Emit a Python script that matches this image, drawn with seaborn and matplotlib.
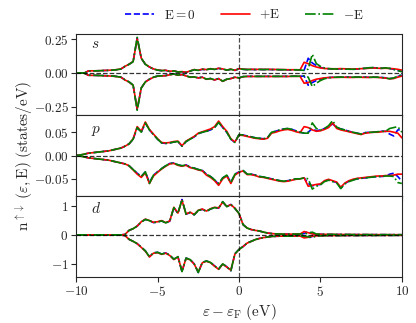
import numpy as np
import matplotlib
matplotlib.use("Agg")
import matplotlib.pyplot as plt
from matplotlib.ticker import FuncFormatter
import seaborn as sns

# energy grid (eV), 0.25 eV step
energy = np.arange(-10, 10.001, 0.25)

# s orbital, spin up / spin down, for E = 0, +E, -E
s_up_zero = [0, 0, 0, 0.015, 0.016, 0.017, 0.018, 0.019, 0.02, 0.022,
             0.025, 0.03, 0.05, 0.065, 0.085, 0.26, 0.11, 0.065, 0.045, 0.03,
             0.022, 0.018, 0.02, 0.012, 0.016, 0.008, 0.01, 0.004, 0.015, 0.025,
             0.02, 0.028, 0.025, 0.032, 0.027, 0.035, 0.03, 0.022, 0.028, 0.02,
             0.032, 0.028, 0.026, 0.027, 0.026, 0.027, 0.026, 0.027, 0.026, 0.026,
             0.025, 0.025, 0.024, 0.024, 0.024, 0.023, 0.022, 0.11, 0.075, 0.055,
             0.042, 0.035, 0.032, 0.03, 0.03, 0.032, 0.03, 0.03, 0.028, 0.03,
             0.033, 0.035, 0.038, 0.04, 0.037, 0.035, 0.038, 0.034, 0.028, 0.02,
             0.012]
s_up_plus = [0, 0, 0, 0.016, 0.017, 0.017, 0.018, 0.02, 0.021, 0.022,
             0.026, 0.031, 0.05, 0.066, 0.086, 0.255, 0.11, 0.066, 0.046, 0.031,
             0.023, 0.019, 0.021, 0.013, 0.017, 0.009, 0.011, 0.006, 0.016, 0.026,
             0.021, 0.029, 0.026, 0.033, 0.028, 0.036, 0.031, 0.023, 0.029, 0.021,
             0.033, 0.029, 0.027, 0.028, 0.027, 0.028, 0.027, 0.028, 0.027, 0.027,
             0.026, 0.026, 0.025, 0.025, 0.025, 0.024, 0.08, 0.07, 0.055, 0.045,
             0.038, 0.034, 0.033, 0.032, 0.032, 0.033, 0.032, 0.031, 0.03, 0.031,
             0.033, 0.034, 0.036, 0.038, 0.036, 0.035, 0.036, 0.034, 0.032, 0.028,
             0.022]
s_up_minus = [0, 0, 0, 0.015, 0.016, 0.017, 0.018, 0.019, 0.02, 0.022,
              0.025, 0.03, 0.05, 0.065, 0.084, 0.265, 0.11, 0.065, 0.045, 0.03,
              0.022, 0.018, 0.02, 0.012, 0.016, 0.008, 0.01, 0.004, 0.015, 0.025,
              0.02, 0.028, 0.025, 0.032, 0.027, 0.035, 0.03, 0.022, 0.028, 0.02,
              0.032, 0.028, 0.026, 0.027, 0.026, 0.027, 0.026, 0.027, 0.026, 0.026,
              0.025, 0.025, 0.024, 0.024, 0.024, 0.023, 0.02, 0.03, 0.14, 0.07,
              0.05, 0.038, 0.033, 0.031, 0.03, 0.031, 0.03, 0.029, 0.028, 0.03,
              0.034, 0.036, 0.04, 0.041, 0.038, 0.036, 0.039, 0.035, 0.027, 0.018,
              0.01]
s_dn_zero = [0, 0, 0, -0.016, -0.016, -0.017, -0.018, -0.019, -0.02, -0.022,
             -0.025, -0.03, -0.05, -0.065, -0.09, -0.27, -0.11, -0.065, -0.045, -0.03,
             -0.022, -0.02, -0.018, -0.012, -0.006, -0.015, -0.01, -0.02, -0.03, -0.028,
             -0.035, -0.03, -0.045, -0.04, -0.05, -0.04, -0.06, -0.045, -0.04, -0.03,
             -0.035, -0.026, -0.024, -0.024, -0.024, -0.024, -0.024, -0.024, -0.024, -0.024,
             -0.024, -0.024, -0.024, -0.023, -0.023, -0.023, -0.022, -0.09, -0.07, -0.055,
             -0.045, -0.037, -0.033, -0.031, -0.03, -0.03, -0.029, -0.03, -0.03, -0.029,
             -0.03, -0.03, -0.031, -0.03, -0.03, -0.032, -0.035, -0.04, -0.038, -0.025,
             -0.015]
s_dn_plus = [0, 0, 0, -0.016, -0.017, -0.017, -0.018, -0.02, -0.021, -0.023,
             -0.026, -0.031, -0.051, -0.066, -0.09, -0.265, -0.11, -0.066, -0.046, -0.031,
             -0.023, -0.021, -0.019, -0.013, -0.007, -0.016, -0.011, -0.021, -0.031, -0.029,
             -0.036, -0.031, -0.046, -0.041, -0.051, -0.041, -0.061, -0.046, -0.041, -0.031,
             -0.036, -0.027, -0.025, -0.025, -0.025, -0.025, -0.025, -0.025, -0.025, -0.025,
             -0.025, -0.025, -0.025, -0.024, -0.024, -0.024, -0.075, -0.07, -0.055, -0.045,
             -0.04, -0.035, -0.033, -0.032, -0.032, -0.031, -0.031, -0.032, -0.032, -0.031,
             -0.031, -0.032, -0.032, -0.031, -0.032, -0.034, -0.037, -0.042, -0.04, -0.03,
             -0.022]
s_dn_minus = [0, 0, 0, -0.016, -0.016, -0.017, -0.018, -0.019, -0.02, -0.022,
              -0.025, -0.03, -0.05, -0.065, -0.089, -0.275, -0.11, -0.065, -0.045, -0.03,
              -0.022, -0.02, -0.018, -0.012, -0.006, -0.015, -0.01, -0.02, -0.03, -0.028,
              -0.035, -0.03, -0.045, -0.04, -0.05, -0.04, -0.06, -0.045, -0.04, -0.03,
              -0.035, -0.026, -0.024, -0.024, -0.024, -0.024, -0.024, -0.024, -0.024, -0.024,
              -0.024, -0.024, -0.024, -0.023, -0.023, -0.023, -0.02, -0.03, -0.1, -0.075,
              -0.055, -0.042, -0.035, -0.031, -0.03, -0.03, -0.029, -0.03, -0.03, -0.029,
              -0.03, -0.03, -0.031, -0.03, -0.03, -0.033, -0.036, -0.042, -0.036, -0.022,
              -0.012]

# p orbital
p_up_zero = [0, 0.001, 0.003, 0.005, 0.006, 0.007, 0.008, 0.009, 0.01, 0.012,
             0.014, 0.016, 0.02, 0.025, 0.035, 0.06, 0.05, 0.07, 0.055, 0.045,
             0.035, 0.027, 0.026, 0.027, 0.029, 0.03, 0.02, 0.03, 0.035, 0.04,
             0.047, 0.05, 0.052, 0.055, 0.06, 0.072, 0.06, 0.05, 0.035, 0.028,
             0.045, 0.044, 0.042, 0.04, 0.038, 0.037, 0.036, 0.038, 0.05, 0.052,
             0.055, 0.057, 0.058, 0.056, 0.053, 0.05, 0.048, 0.05, 0.058, 0.053,
             0.055, 0.058, 0.062, 0.068, 0.06, 0.057, 0.055, 0.052, 0.05, 0.048,
             0.046, 0.049, 0.05, 0.05, 0.051, 0.052, 0.052, 0.046, 0.042, 0.055,
             0.055]
p_up_plus = [0, 0.001, 0.003, 0.005, 0.006, 0.007, 0.008, 0.009, 0.01, 0.012,
             0.014, 0.016, 0.02, 0.025, 0.036, 0.062, 0.052, 0.072, 0.056, 0.046,
             0.036, 0.028, 0.027, 0.028, 0.03, 0.031, 0.021, 0.031, 0.036, 0.041,
             0.048, 0.051, 0.054, 0.057, 0.062, 0.074, 0.062, 0.052, 0.036, 0.029,
             0.044, 0.043, 0.041, 0.039, 0.037, 0.036, 0.035, 0.037, 0.048, 0.05,
             0.053, 0.055, 0.056, 0.054, 0.051, 0.049, 0.062, 0.06, 0.055, 0.052,
             0.053, 0.056, 0.06, 0.07, 0.058, 0.055, 0.053, 0.051, 0.049, 0.047,
             0.045, 0.048, 0.049, 0.05, 0.05, 0.051, 0.052, 0.052, 0.05, 0.048,
             0.038]
p_up_minus = [0, 0.001, 0.003, 0.005, 0.006, 0.007, 0.008, 0.009, 0.01, 0.012,
              0.014, 0.016, 0.02, 0.025, 0.035, 0.06, 0.05, 0.07, 0.055, 0.045,
              0.035, 0.027, 0.026, 0.027, 0.029, 0.03, 0.02, 0.03, 0.035, 0.04,
              0.047, 0.05, 0.052, 0.055, 0.06, 0.071, 0.06, 0.05, 0.035, 0.028,
              0.045, 0.044, 0.042, 0.04, 0.038, 0.037, 0.036, 0.038, 0.05, 0.052,
              0.055, 0.057, 0.058, 0.056, 0.053, 0.05, 0.048, 0.048, 0.07, 0.058,
              0.055, 0.058, 0.064, 0.075, 0.061, 0.057, 0.055, 0.052, 0.05, 0.048,
              0.046, 0.049, 0.05, 0.05, 0.051, 0.052, 0.052, 0.058, 0.06, 0.062,
              0.05]
p_dn_zero = [0, -0.001, -0.003, -0.005, -0.006, -0.007, -0.008, -0.009, -0.01, -0.012,
             -0.014, -0.016, -0.018, -0.022, -0.03, -0.038, -0.045, -0.035, -0.058, -0.042,
             -0.035, -0.028, -0.022, -0.017, -0.016, -0.02, -0.022, -0.02, -0.025, -0.027,
             -0.03, -0.032, -0.04, -0.045, -0.052, -0.062, -0.048, -0.042, -0.058, -0.04,
             -0.035, -0.032, -0.04, -0.04, -0.042, -0.045, -0.046, -0.048, -0.05, -0.052,
             -0.054, -0.055, -0.054, -0.052, -0.05, -0.05, -0.048, -0.06, -0.065, -0.063,
             -0.062, -0.055, -0.052, -0.055, -0.058, -0.07, -0.06, -0.055, -0.052, -0.05,
             -0.049, -0.048, -0.047, -0.046, -0.045, -0.045, -0.044, -0.04, -0.038, -0.045,
             -0.055]
p_dn_plus = [0, -0.001, -0.003, -0.005, -0.006, -0.007, -0.008, -0.009, -0.01, -0.012,
             -0.014, -0.016, -0.018, -0.022, -0.031, -0.04, -0.047, -0.037, -0.06, -0.044,
             -0.036, -0.029, -0.023, -0.018, -0.017, -0.021, -0.023, -0.021, -0.026, -0.028,
             -0.031, -0.033, -0.042, -0.047, -0.054, -0.064, -0.05, -0.044, -0.06, -0.042,
             -0.036, -0.033, -0.041, -0.041, -0.043, -0.046, -0.047, -0.049, -0.051, -0.053,
             -0.055, -0.056, -0.055, -0.053, -0.051, -0.05, -0.048, -0.066, -0.064, -0.062,
             -0.061, -0.054, -0.051, -0.054, -0.057, -0.068, -0.059, -0.054, -0.051, -0.049,
             -0.048, -0.047, -0.046, -0.045, -0.044, -0.044, -0.043, -0.043, -0.042, -0.04,
             -0.04]
p_dn_minus = [0, -0.001, -0.003, -0.005, -0.006, -0.007, -0.008, -0.009, -0.01, -0.012,
              -0.014, -0.016, -0.018, -0.022, -0.03, -0.038, -0.045, -0.035, -0.06, -0.042,
              -0.035, -0.028, -0.022, -0.017, -0.016, -0.02, -0.022, -0.02, -0.025, -0.027,
              -0.03, -0.032, -0.04, -0.045, -0.052, -0.06, -0.048, -0.042, -0.058, -0.04,
              -0.035, -0.032, -0.04, -0.04, -0.042, -0.045, -0.046, -0.048, -0.05, -0.052,
              -0.054, -0.055, -0.054, -0.052, -0.05, -0.05, -0.048, -0.05, -0.072, -0.066,
              -0.063, -0.056, -0.053, -0.056, -0.059, -0.071, -0.061, -0.056, -0.053, -0.05,
              -0.049, -0.048, -0.047, -0.046, -0.045, -0.045, -0.044, -0.044, -0.045, -0.058,
              -0.06]

# d orbital
d_up_zero = [0, 0, 0, 0, 0, 0, 0, 0, 0, 0,
             0, 0.003, 0.02, 0.16, 0.22, 0.31, 0.45, 0.54, 0.5, 0.43,
             0.45, 0.49, 0.42, 0.48, 0.95, 0.75, 1.23, 0.72, 0.78, 0.7,
             0.85, 0.89, 0.82, 0.9, 0.95, 0.93, 1.15, 0.98, 1.06, 0.92,
             0.75, 0.36, 0.24, 0.19, 0.16, 0.14, 0.1, 0.07, 0.05, 0.04,
             0.035, 0.03, 0.03, 0.03, 0.03, 0.035, 0.05, 0.12, 0.05, 0.03,
             0.025, 0.022, 0.02, 0.02, 0.018, 0.018, 0.017, 0.016, 0.015, 0.015,
             0.014, 0.014, 0.013, 0.013, 0.012, 0.012, 0.012, 0.011, 0.011, 0.01,
             0.01]
d_up_plus = [0, 0, 0, 0, 0, 0, 0, 0, 0, 0,
             0, 0.003, 0.02, 0.16, 0.22, 0.31, 0.46, 0.55, 0.5, 0.44,
             0.46, 0.5, 0.43, 0.49, 0.96, 0.76, 1.2, 0.73, 0.79, 0.71,
             0.86, 0.9, 0.83, 0.91, 0.96, 0.94, 1.14, 0.99, 1.05, 0.93,
             0.74, 0.36, 0.24, 0.19, 0.16, 0.14, 0.1, 0.07, 0.05, 0.04,
             0.035, 0.03, 0.03, 0.03, 0.03, 0.035, 0.12, 0.08, 0.04, 0.03,
             0.025, 0.022, 0.02, 0.02, 0.018, 0.018, 0.017, 0.016, 0.015, 0.015,
             0.014, 0.014, 0.013, 0.013, 0.012, 0.012, 0.012, 0.011, 0.011, 0.01,
             0.01]
d_up_minus = [0, 0, 0, 0, 0, 0, 0, 0, 0, 0,
              0, 0.003, 0.02, 0.16, 0.22, 0.31, 0.45, 0.54, 0.5, 0.43,
              0.45, 0.49, 0.42, 0.48, 0.95, 0.75, 1.23, 0.72, 0.78, 0.7,
              0.85, 0.89, 0.82, 0.9, 0.95, 0.93, 1.16, 0.98, 1.06, 0.92,
              0.75, 0.36, 0.24, 0.19, 0.16, 0.14, 0.1, 0.07, 0.05, 0.04,
              0.035, 0.03, 0.03, 0.03, 0.03, 0.035, 0.04, 0.06, 0.1, 0.035,
              0.025, 0.022, 0.02, 0.02, 0.018, 0.018, 0.017, 0.016, 0.015, 0.015,
              0.014, 0.014, 0.013, 0.013, 0.012, 0.012, 0.012, 0.011, 0.011, 0.01,
              0.01]
d_dn_zero = [0, 0, 0, 0, 0, 0, 0, 0, 0, 0,
             0, -0.003, -0.02, -0.15, -0.22, -0.3, -0.42, -0.55, -0.75, -0.62,
             -0.6, -0.66, -0.62, -0.7, -0.84, -0.75, -1.27, -0.8, -0.85, -1.0,
             -1.3, -0.95, -0.9, -0.95, -1.07, -1.18, -1.0, -1.1, -1.24, -0.65,
             -0.5, -0.4, -0.28, -0.22, -0.16, -0.12, -0.09, -0.07, -0.05, -0.045,
             -0.04, -0.04, -0.038, -0.037, -0.036, -0.035, -0.05, -0.1, -0.05, -0.03,
             -0.025, -0.022, -0.02, -0.02, -0.018, -0.018, -0.017, -0.016, -0.015, -0.015,
             -0.014, -0.014, -0.013, -0.013, -0.012, -0.012, -0.012, -0.011, -0.011, -0.01,
             -0.01]
d_dn_plus = [0, 0, 0, 0, 0, 0, 0, 0, 0, 0,
             0, -0.003, -0.02, -0.15, -0.22, -0.3, -0.43, -0.56, -0.76, -0.63,
             -0.61, -0.67, -0.63, -0.71, -0.85, -0.76, -1.25, -0.81, -0.86, -1.01,
             -1.28, -0.96, -0.91, -0.96, -1.08, -1.19, -1.01, -1.11, -1.22, -0.66,
             -0.5, -0.4, -0.28, -0.22, -0.16, -0.12, -0.09, -0.07, -0.05, -0.045,
             -0.04, -0.04, -0.038, -0.037, -0.036, -0.035, -0.1, -0.08, -0.04, -0.03,
             -0.025, -0.022, -0.02, -0.02, -0.018, -0.018, -0.017, -0.016, -0.015, -0.015,
             -0.014, -0.014, -0.013, -0.013, -0.012, -0.012, -0.012, -0.011, -0.011, -0.01,
             -0.01]
d_dn_minus = [0, 0, 0, 0, 0, 0, 0, 0, 0, 0,
              0, -0.003, -0.02, -0.15, -0.22, -0.3, -0.42, -0.55, -0.75, -0.62,
              -0.6, -0.66, -0.62, -0.7, -0.84, -0.75, -1.27, -0.8, -0.85, -1.0,
              -1.3, -0.95, -0.9, -0.95, -1.07, -1.18, -1.0, -1.1, -1.24, -0.65,
              -0.5, -0.4, -0.28, -0.22, -0.16, -0.12, -0.09, -0.07, -0.05, -0.045,
              -0.04, -0.04, -0.038, -0.037, -0.036, -0.035, -0.04, -0.06, -0.09, -0.035,
              -0.025, -0.022, -0.02, -0.02, -0.018, -0.018, -0.017, -0.016, -0.015, -0.015,
              -0.014, -0.014, -0.013, -0.013, -0.012, -0.012, -0.012, -0.011, -0.011, -0.01,
              -0.01]

orbitals = ["s", "p", "d"]
field_labels = [r"$\mathrm{E} = 0$", r"${+}\mathrm{E}$", r"${-}\mathrm{E}$"]
field_colors = ["blue", "red", "green"]
field_styles = ["--", "-", "-."]
y_limits = [(-0.31, 0.29), (-0.087, 0.087), (-1.46, 1.35)]
y_ticks = [[-0.25, 0.0, 0.25], [-0.05, 0.0, 0.05], [-1, 0, 1]]
y_fmt = ["{:.2f}", "{:.2f}", "{:.0f}"]
label_y = [0.87, 0.8, 0.85]

dos = {
    "s": ([s_up_zero, s_up_plus, s_up_minus], [s_dn_zero, s_dn_plus, s_dn_minus]),
    "p": ([p_up_zero, p_up_plus, p_up_minus], [p_dn_zero, p_dn_plus, p_dn_minus]),
    "d": ([d_up_zero, d_up_plus, d_up_minus], [d_dn_zero, d_dn_plus, d_dn_minus]),
}


def math_tick(fmt):
    # unary minus without binary-operator spacing
    return FuncFormatter(lambda v, pos: "$" + fmt.format(v).replace("-", "{-}") + "$")


sns.set_style("ticks")
plt.rcParams["font.family"] = ["DejaVu Serif"]
plt.rcParams["mathtext.fontset"] = "cm"
plt.rcParams["font.size"] = 10

fig, axes = plt.subplots(3, 1, sharex=True, figsize=(4.16, 3.23), dpi=100)
fig.subplots_adjust(left=0.183, right=0.966, top=0.895, bottom=0.142, hspace=0)

for k, (ax, orb) in enumerate(zip(axes, orbitals)):
    ups, dns = dos[orb]
    for j in range(3):
        lab = field_labels[j] if k == 0 else None
        sns.lineplot(x=energy, y=ups[j], ax=ax, color=field_colors[j],
                     linestyle=field_styles[j], lw=1.2, label=lab, legend=False)
        sns.lineplot(x=energy, y=dns[j], ax=ax, color=field_colors[j],
                     linestyle=field_styles[j], lw=1.2, legend=False)
    ax.axhline(0, color="black", ls="--", lw=0.9, alpha=0.8)
    ax.axvline(0, color="black", ls="--", lw=0.9, alpha=0.7)
    ax.set_xlim(-10, 10)
    ax.set_ylim(*y_limits[k])
    ax.set_yticks(y_ticks[k])
    ax.yaxis.set_major_formatter(math_tick(y_fmt[k]))
    ax.text(0.045, label_y[k], "$" + orb + "$", transform=ax.transAxes,
            fontsize=11, va="center")
    ax.set_ylabel("")
    ax.tick_params(labelsize=9.5, length=3.5, pad=2)

axes[2].set_xticks([-10, -5, 0, 5, 10])
axes[2].xaxis.set_major_formatter(math_tick("{:.0f}"))
axes[2].set_xlabel(r"$\varepsilon-\varepsilon_{\mathrm{F}}\ (\mathrm{eV})$",
                   fontsize=11, labelpad=2)
fig.supylabel(r"$\mathrm{n}^{\uparrow\downarrow}\ (\varepsilon,\mathrm{E})\ (\mathrm{states/eV})$",
              x=0.033, y=0.517, fontsize=11)

handles, labels = axes[0].get_legend_handles_labels()
fig.legend(handles, labels, loc="center", bbox_to_anchor=(0.588, 0.954), ncol=3,
           frameon=False, handlelength=2.2, handletextpad=0.7, columnspacing=1.9,
           fontsize=9.5)

fig.savefig("out.png", dpi=100)
